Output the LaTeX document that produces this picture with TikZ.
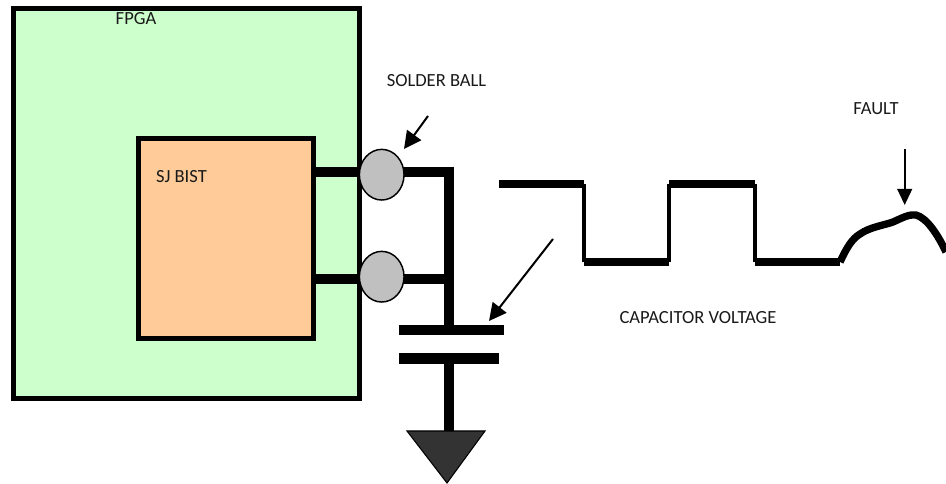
\documentclass[tikz,border=0pt]{standalone}
\usepackage{fontspec}
\setmainfont{Carlito}
\usetikzlibrary{arrows.meta,shapes.geometric}
\definecolor{fpgagreen}{HTML}{CCFFCC}
\definecolor{bistorange}{HTML}{FFCC99}
\definecolor{ballgrey}{HTML}{C0C0C0}
\definecolor{gndgrey}{HTML}{333333}
\tikzset{
  x=0.75pt,y=-0.75pt,
  lbl/.style={inner sep=0pt,font=\fontsize{13.9}{16}\selectfont,text=black!90},
  blockbox/.style={draw=black,line width=3.75pt,anchor=north west,inner sep=0pt},
  ball/.style={draw=black,fill=ballgrey,ellipse,line width=1.1pt,minimum width=33.5pt,minimum height=38pt,inner sep=0pt},
  wire/.style={line width=7.8pt,line cap=butt},
  wave/.style={line width=5.5pt,line cap=butt},
  wavev/.style={line width=3.2pt,line cap=butt},
  pointer/.style={line width=1.5pt,-{Triangle[length=13pt,width=13pt]}},
  pointerb/.style={line width=1.5pt,-{Triangle[length=12pt,width=11pt]}},
}
\begin{document}
\begin{tikzpicture}
\useasboundingbox (0,0) rectangle (946,484);
% boxes
\node[blockbox,fill=fpgagreen,minimum width=259.6pt,minimum height=292.5pt] (fpga) at (10.5,6.5) {};
\node[blockbox,fill=bistorange,minimum width=131.6pt,minimum height=150pt] (bist) at (136,136) {};
% junctions and wire ends
\coordinate (j1) at (449,172);
\coordinate (j2) at (449,279);
\coordinate (capT) at (449,330);
\coordinate (capB) at (449,358.5);
\coordinate (gndT) at (449,431);
% wires behind balls
\draw[wire] (bist.east |- j1) -- (j1);
\draw[wire] (bist.east |- j2) -- (j2);
\draw[wire] (449,166.7) -- (capT);
\draw[wire] (capB) -- (gndT);
% balls
\node[ball] (b1) at (381.7,174.7) {};
\node[ball] (b2) at (381.7,276.7) {};
% capacitor plates
\coordinate (p1l) at (399,330);
\coordinate (p1r) at (504,330);
\coordinate (p2l) at (399,358.5);
\coordinate (p2r) at (499,358.5);
\draw[wire] (p1l) -- (p1r);
\draw[wire] (p2l) -- (p2r);
% ground
\coordinate (g1) at (407,431);
\coordinate (g2) at (485,431);
\coordinate (g3) at (447,483);
\draw[fill=gndgrey,draw=black,line width=0.8pt] (g1) -- (g2) -- (g3) -- cycle;
% waveform
\coordinate (w0) at (499,184);
\coordinate (w1) at (584,184);
\coordinate (w2) at (584,262);
\coordinate (w3) at (669,262);
\coordinate (w4) at (669,184);
\coordinate (w5) at (755,184);
\coordinate (w6) at (755,262);
\coordinate (w7) at (840,262);
\draw[wave] (w0) -- (w1);
\draw[wavev] (w1) -- (w2);
\draw[wave] (w2) -- (w3);
\draw[wavev] (w3) -- (w4);
\draw[wave] (w4) -- (w5);
\draw[wavev] (w5) -- (w6);
\draw[wave] (w6) -- (w7);
\draw[wave] (w7) .. controls (847,247) and (852,239) .. (860,234)
  .. controls (870,227) and (885,225) .. (893,222)
  .. controls (902,218) and (909,214) .. (916,215)
  .. controls (927,218) and (938,235) .. (946,252);
% pointers
\coordinate (a1s) at (428,116);
\coordinate (a1e) at (404,149);
\coordinate (a2s) at (553,239);
\coordinate (a2e) at (489,321);
\coordinate (a3s) at (904.7,149);
\coordinate (a3e) at (904.7,205);
\draw[pointer] (a1s) -- (a1e);
\draw[pointer] (a2s) -- (a2e);
\draw[pointerb] (a3s) -- (a3e);
% labels
\node[lbl] (tfpga) at (136,18.5) {FPGA};
\node[lbl] (tbist) at (181.5,177) {SJ BIST};
\node[lbl] (tball) at (436.5,81) {SOLDER BALL};
\node[lbl] (tfault) at (876,109) {FAULT};
\node[lbl] (tcap) at (698,318) {CAPACITOR VOLTAGE};
\end{tikzpicture}
\end{document}
